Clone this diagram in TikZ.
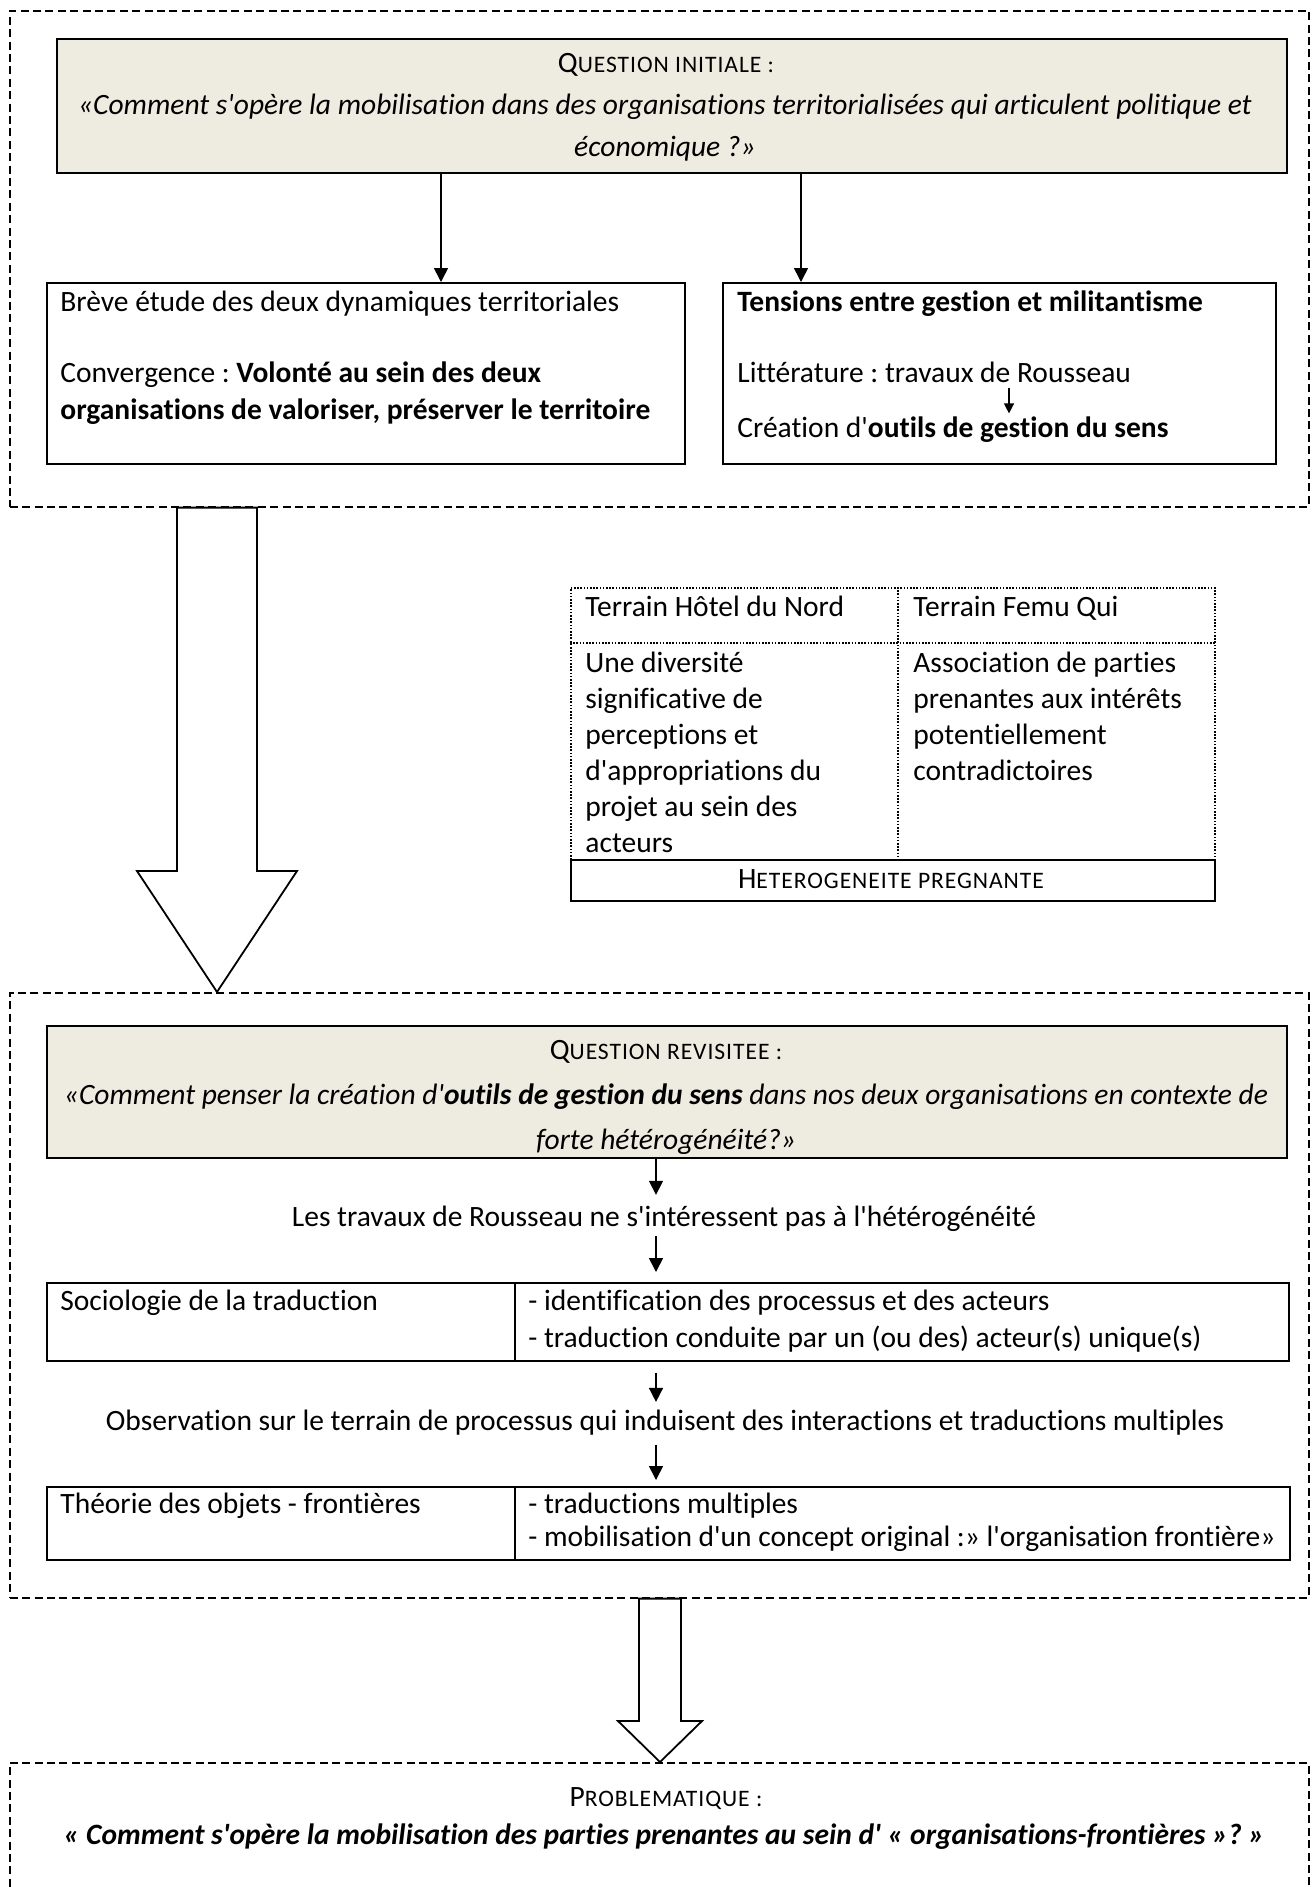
\documentclass[tikz,border=0pt]{standalone}
\usepackage{fontspec}
\setmainfont{Carlito}[Ligatures={ResetAll,NoCommon}]
\newfontfamily\scfont{Carlito}[Ligatures={ResetAll,NoCommon},LetterSpace=4]
\usetikzlibrary{arrows.meta,calc}
\definecolor{qfill}{HTML}{EEECE1}
\newcommand\tsz{\fontsize{14.75pt}{18pt}\selectfont\frenchspacing}
\newcommand\scs[1]{{\scfont\fontsize{11.8pt}{14pt}\selectfont #1}}
\newcommand\ap{\XeTeXglyph\XeTeXcharglyph"27\relax}
\tikzset{
  solidbox/.style={draw, line width=0.9pt, inner sep=0pt, anchor=north west},
  qbox/.style={solidbox, fill=qfill},
  framebox/.style={draw, line width=0.8pt, dash pattern=on 4pt off 2.2pt, inner sep=0pt, anchor=north west},
  dotcell/.style={draw, line width=0.75pt, dash pattern=on 0.8pt off 0.8pt, inner sep=0pt, anchor=north west},
  dotline/.style={line width=0.75pt, dash pattern=on 0.8pt off 0.8pt},
  txt/.style={inner sep=0pt, font=\tsz, anchor=mid west},
  ctxt/.style={inner sep=0pt, font=\tsz, anchor=mid},
  arr/.style={line width=0.8pt, -{Triangle[length=7pt,width=7pt]}},
  smallarr/.style={line width=0.7pt, -{Triangle[length=5pt,width=5pt]}},
  bigarrow/.style={draw, line width=0.9pt, fill=white, line join=miter},
}
\begin{document}
\frenchspacing
\begin{tikzpicture}[x=0.5pt,y=-0.5pt]
\useasboundingbox (0,0) rectangle (1313,1887);
\clip (0,0) rectangle (1313,1887);

% ---------- frame A ----------
\node[framebox, minimum width=649.5pt, minimum height=248pt] (frameA) at (9,10) {};
\node[qbox, minimum width=615pt, minimum height=67pt] (q1) at (56,38) {};
\node[ctxt] (q1t) at (666,68) {Q\scs{UESTION INITIALE :}};
\node[ctxt] (q1a) at (665,110) {\itshape «Comment s\ap opère la mobilisation dans des organisations territorialisées qui articulent politique et};
\node[ctxt] (q1b) at (665,152) {\itshape économique ?»};

\node[solidbox, minimum width=319pt, minimum height=90.5pt] (lbox) at (46,282) {};
\node[txt] (l1) at (60,307) {Brève étude des deux dynamiques territoriales};
\node[txt] (l2) at (60,378) {Convergence : \textbf{Volonté au sein des deux}};
\node[txt] (l3) at (60,415) {\textbf{organisations de valoriser, préserver le territoire}};

\node[solidbox, minimum width=276.5pt, minimum height=90.5pt] (rbox) at (722,282) {};
\node[txt] (r1) at (737,307) {\textbf{Tensions entre gestion et militantisme}};
\node[txt] (r2) at (737,378) {Littérature : travaux de Rousseau};
\node[txt] (r3) at (737,433) {Création d\ap\textbf{outils de gestion du sens}};

\coordinate (ax1) at (441,0);
\coordinate (ax2) at (801,0);
\coordinate (sa) at (1009,0);
\draw[arr] (q1.south -| ax1) -- (lbox.north -| ax1);
\draw[arr] (q1.south -| ax2) -- (rbox.north -| ax2);
\draw[smallarr] (r2.south -| sa) ++(0,5) -- ++(0,25);

% ---------- table ----------
\node[dotcell, minimum width=322pt, minimum height=136pt] (tab) at (570,587) {};
\node[solidbox, line width=0.8pt, minimum width=322pt, minimum height=20.5pt] (te) at (570,859) {};
\coordinate (tdiv) at (898,0);
\coordinate (trow) at (0,643);
\draw[dotline] (tab.north -| tdiv) -- (te.north -| tdiv);
\draw[dotline] (tab.west |- trow) -- (tab.east |- trow);
\node[txt] (ta1) at (585,612) {Terrain Hôtel du Nord};
\node[txt] (tb1) at (913,612) {Terrain Femu Qui};
\node[txt] (tc1) at (585,668) {Une diversité};
\node[txt] (tc2) at (585,704) {significative de};
\node[txt] (tc3) at (585,740) {perceptions et};
\node[txt] (tc4) at (585,776) {d\ap appropriations du};
\node[txt] (tc5) at (585,812) {projet au sein des};
\node[txt] (tc6) at (585,848) {acteurs};
\node[txt] (td1) at (913,668) {Association de parties};
\node[txt] (td2) at (913,704) {prenantes aux intérêts};
\node[txt] (td3) at (913,740) {potentiellement};
\node[txt] (td4) at (913,776) {contradictoires};
\node[ctxt] (te1) at (891,884) {H\scs{ETEROGENEITE PREGNANTE}};

% ---------- frame B ----------
\node[framebox, minimum width=649.5pt, minimum height=302.5pt] (frameB) at (9,992) {};
\node[qbox, minimum width=620pt, minimum height=66pt] (q2) at (46,1025) {};
\node[ctxt] (q2t) at (666,1055) {Q\scs{UESTION REVISITEE :}};
\node[ctxt] (q2a) at (666,1100) {\itshape «Comment penser la création d\ap\textbf{outils de gestion du sens} dans nos deux organisations en contexte de};
\node[ctxt] (q2b) at (666,1145) {\itshape forte hétérogénéité?»};

\node[ctxt] (m1) at (664,1222) {Les travaux de Rousseau ne s\ap intéressent pas à l\ap hétérogénéité};

\node[solidbox, minimum width=234pt, minimum height=39pt] (s1a) at (46,1282) {};
\node[solidbox, minimum width=387pt, minimum height=39pt] (s1b) at (514,1282) {};
\node[txt] (s1a1) at (60,1306) {Sociologie de la traduction};
\node[txt] (s1b1) at (528,1306) {- identification des processus et des acteurs};
\node[txt] (s1b2) at (528,1343) {- traduction conduite par un (ou des) acteur(s) unique(s)};

\node[ctxt] (m2) at (665,1426) {Observation sur le terrain de processus qui induisent des interactions et traductions multiples};

\node[solidbox, minimum width=234pt, minimum height=36.5pt] (s2a) at (46,1486) {};
\node[solidbox, minimum width=387.5pt, minimum height=36.5pt] (s2b) at (514,1486) {};
\node[txt] (s2a1) at (60,1509) {Théorie des objets - frontières};
\node[txt] (s2b1) at (528,1509) {- traductions multiples};
\node[txt] (s2b2) at (528,1542) {- mobilisation d\ap un concept original :» l\ap organisation frontière»};

\coordinate (ax3) at (656,0);
\draw[arr] (q2.south -| ax3) -- ++(0,36) coordinate (e1);
\draw[arr, shorten <=1.75pt, shorten >=5pt] (m1.south -| ax3) -- (s1b.north -| ax3);
\draw[arr, shorten <=5.5pt, shorten >=4pt] (s1b.south -| ax3) -- (m2.north -| ax3);
\draw[arr, shorten <=4.5pt, shorten >=3pt] (m2.south -| ax3) -- (s2b.north -| ax3);

% ---------- frame C ----------
\node[framebox, minimum width=649.5pt, minimum height=100pt] (frameC) at (9,1762) {};
\node[ctxt] (pt) at (666,1802) {P\scs{ROBLEMATIQUE :}};
\node[ctxt] (pq) at (664,1840) {\bfseries\itshape « Comment s\ap opère la mobilisation des parties prenantes au sein d\ap{} « organisations-frontières »? »};

% ---------- big arrows ----------
\coordinate (b1) at (217,0);
\coordinate (b1s) at (frameA.south -| b1);
\coordinate (b1t) at (frameB.north -| b1);
\draw[bigarrow] ($(b1s)+(-40,0)$) -- ($(b1t)+(-40,-121)$) -- ($(b1t)+(-80,-121)$) -- (b1t)
  -- ($(b1t)+(80,-121)$) -- ($(b1t)+(40,-121)$) -- ($(b1s)+(40,0)$) -- cycle;

\coordinate (b2) at (660,0);
\coordinate (b2s) at (frameB.south -| b2);
\coordinate (b2t) at (frameC.north -| b2);
\draw[bigarrow] ($(b2s)+(-21,0)$) -- ($(b2t)+(-21,-41)$) -- ($(b2t)+(-42,-41)$) -- (b2t)
  -- ($(b2t)+(42,-41)$) -- ($(b2t)+(21,-41)$) -- ($(b2s)+(21,0)$) -- cycle;
\end{tikzpicture}
\end{document}
